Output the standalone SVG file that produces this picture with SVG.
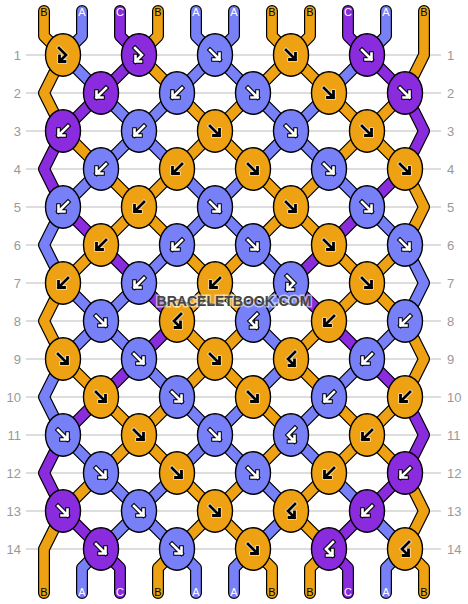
<svg xmlns="http://www.w3.org/2000/svg" xmlns:xlink="http://www.w3.org/1999/xlink" width="468" height="604" viewBox="0 0 468 604">
<style>
.g{stroke:#bbb;stroke-width:1}
.rn{font-family:"Liberation Sans",Arial,sans-serif;font-size:13px;fill:#999}
.so{fill:none;stroke:#000;stroke-width:12;stroke-linecap:round;stroke-linejoin:round}
.sO{fill:none;stroke:#EEA213;stroke-width:9.6;stroke-linecap:round;stroke-linejoin:round}
.sA{fill:none;stroke:#7880F7;stroke-width:9.6;stroke-linecap:round;stroke-linejoin:round}
.sC{fill:none;stroke:#8A2BDE;stroke-width:9.6;stroke-linecap:round;stroke-linejoin:round}
ellipse{stroke:#000;stroke-width:1.4}
.kO{fill:#EEA213}.kA{fill:#7880F7}.kC{fill:#8A2BDE}
.ob{fill:none;stroke:#000;stroke-width:4.6;stroke-linecap:square;stroke-linejoin:miter}
.iw{fill:none;stroke:#fff;stroke-width:2.6;stroke-linecap:square;stroke-linejoin:miter}
.ow{fill:none;stroke:#fff;stroke-width:4;stroke-linecap:square;stroke-linejoin:miter}
.ib{fill:none;stroke:#000;stroke-width:2.8;stroke-linecap:square;stroke-linejoin:miter}
.lb{font-family:"Liberation Sans",Arial,sans-serif;font-size:11px;text-anchor:middle}
.lk{fill:#000}.lw{fill:#fff}
.wm{font-family:"Liberation Sans",Arial,sans-serif;font-size:14px;font-weight:bold;fill:#454545;stroke:#fff;stroke-opacity:0.55;stroke-width:3;paint-order:stroke;text-anchor:middle}
</style>
<defs>
<path id="aF" d="M-5,-5L4.5,4.5M4.5,-1.5V4.5H-1.5"/>
<path id="aB" d="M5,-5L-4.5,4.5M-4.5,-1.5V4.5H1.5"/>
<path id="aFB" d="M-4,-7L3,0L-3.5,6.5M-3.5,1V6.5H2"/>
<path id="aBF" d="M4,-7L-3,0L3.5,6.5M3.5,1V6.5H-2"/>
<path id="s0" d="M44,11L44,36L63,55L44,93L63,131L101,169L139,207L177,245L215,283L253,321L215,359L177,397L139,435L101,473L63,511L44,549L44,593"/>
<path id="s1" d="M82,11L82,36L63,55L101,93L139,131L177,169L215,207L253,245L291,283L253,321L291,359L253,397L215,435L177,473L139,511L101,549L82,568L82,593"/>
<path id="s2" d="M120,11L120,36L139,55L101,93L63,131L44,169L63,207L101,245L139,283L177,321L139,359L101,397L63,435L44,473L63,511L101,549L120,568L120,593"/>
<path id="s3" d="M158,11L158,36L139,55L177,93L215,131L253,169L291,207L329,245L367,283L405,321L424,359L405,397L367,435L329,473L291,511L329,549L310,568L310,593"/>
<path id="s4" d="M196,11L196,36L215,55L253,93L291,131L329,169L367,207L405,245L424,283L405,321L367,359L329,397L291,435L329,473L367,511L405,549L386,568L386,593"/>
<path id="s5" d="M234,11L234,36L215,55L177,93L139,131L101,169L63,207L44,245L63,283L101,321L139,359L177,397L215,435L253,473L291,511L253,549L234,568L234,593"/>
<path id="s6" d="M272,11L272,36L291,55L329,93L367,131L405,169L424,207L405,245L367,283L329,321L291,359L329,397L367,435L405,473L424,511L405,549L424,568L424,593"/>
<path id="s7" d="M310,11L310,36L291,55L253,93L215,131L177,169L139,207L101,245L63,283L44,321L63,359L101,397L139,435L177,473L215,511L253,549L272,568L272,593"/>
<path id="s8" d="M348,11L348,36L367,55L405,93L424,131L405,169L367,207L329,245L291,283L329,321L367,359L405,397L424,435L405,473L367,511L329,549L348,568L348,593"/>
<path id="s9" d="M386,11L386,36L367,55L329,93L291,131L253,169L215,207L177,245L139,283L101,321L63,359L44,397L63,435L101,473L139,511L177,549L196,568L196,593"/>
<path id="s10" d="M424,11L424,55L405,93L367,131L329,169L291,207L253,245L215,283L177,321L215,359L253,397L291,435L253,473L215,511L177,549L158,568L158,593"/>
</defs>
<g id="guides">
<line class="g" x1="26" y1="55" x2="441" y2="55"/>
<line class="g" x1="26" y1="93" x2="441" y2="93"/>
<line class="g" x1="26" y1="131" x2="441" y2="131"/>
<line class="g" x1="26" y1="169" x2="441" y2="169"/>
<line class="g" x1="26" y1="207" x2="441" y2="207"/>
<line class="g" x1="26" y1="245" x2="441" y2="245"/>
<line class="g" x1="26" y1="283" x2="441" y2="283"/>
<line class="g" x1="26" y1="321" x2="441" y2="321"/>
<line class="g" x1="26" y1="359" x2="441" y2="359"/>
<line class="g" x1="26" y1="397" x2="441" y2="397"/>
<line class="g" x1="26" y1="435" x2="441" y2="435"/>
<line class="g" x1="26" y1="473" x2="441" y2="473"/>
<line class="g" x1="26" y1="511" x2="441" y2="511"/>
<line class="g" x1="26" y1="549" x2="441" y2="549"/>
<g class="rn" text-anchor="end">
<text x="21" y="60">1</text><text x="21" y="98">2</text><text x="21" y="136">3</text><text x="21" y="174">4</text><text x="21" y="212">5</text><text x="21" y="250">6</text><text x="21" y="288">7</text><text x="21" y="326">8</text><text x="21" y="364">9</text><text x="21" y="402">10</text><text x="21" y="440">11</text><text x="21" y="478">12</text><text x="21" y="516">13</text><text x="21" y="554">14</text>
</g>
<g class="rn" text-anchor="start">
<text x="447" y="60">1</text><text x="447" y="98">2</text><text x="447" y="136">3</text><text x="447" y="174">4</text><text x="447" y="212">5</text><text x="447" y="250">6</text><text x="447" y="288">7</text><text x="447" y="326">8</text><text x="447" y="364">9</text><text x="447" y="402">10</text><text x="447" y="440">11</text><text x="447" y="478">12</text><text x="447" y="516">13</text><text x="447" y="554">14</text>
</g>
</g>
<g id="connectors">
<use href="#s0" class="so"/><use href="#s0" class="sO"/>
<use href="#s1" class="so"/><use href="#s1" class="sA"/>
<use href="#s2" class="so"/><use href="#s2" class="sC"/>
<use href="#s3" class="so"/><use href="#s3" class="sO"/>
<use href="#s4" class="so"/><use href="#s4" class="sA"/>
<use href="#s5" class="so"/><use href="#s5" class="sA"/>
<use href="#s6" class="so"/><use href="#s6" class="sO"/>
<use href="#s7" class="so"/><use href="#s7" class="sO"/>
<use href="#s8" class="so"/><use href="#s8" class="sC"/>
<use href="#s9" class="so"/><use href="#s9" class="sA"/>
<use href="#s10" class="so"/><use href="#s10" class="sO"/>
</g>
<g id="knots">
<g id="r1k1"><ellipse class="kO" cx="63" cy="55" rx="17.5" ry="21.3"/><use href="#aFB" x="63" y="55" class="ow"/><use href="#aFB" x="63" y="55" class="ib"/></g>
<g id="r1k2"><ellipse class="kC" cx="139" cy="55" rx="17.5" ry="21.3"/><use href="#aFB" x="139" y="55" class="ob"/><use href="#aFB" x="139" y="55" class="iw"/></g>
<g id="r1k3"><ellipse class="kA" cx="215" cy="55" rx="17.5" ry="21.3"/><use href="#aF" x="215" y="55" class="ob"/><use href="#aF" x="215" y="55" class="iw"/></g>
<g id="r1k4"><ellipse class="kO" cx="291" cy="55" rx="17.5" ry="21.3"/><use href="#aF" x="291" y="55" class="ow"/><use href="#aF" x="291" y="55" class="ib"/></g>
<g id="r1k5"><ellipse class="kC" cx="367" cy="55" rx="17.5" ry="21.3"/><use href="#aF" x="367" y="55" class="ob"/><use href="#aF" x="367" y="55" class="iw"/></g>

<g id="r2k1"><ellipse class="kC" cx="101" cy="93" rx="17.5" ry="21.3"/><use href="#aB" x="101" y="93" class="ob"/><use href="#aB" x="101" y="93" class="iw"/></g>
<g id="r2k2"><ellipse class="kA" cx="177" cy="93" rx="17.5" ry="21.3"/><use href="#aB" x="177" y="93" class="ob"/><use href="#aB" x="177" y="93" class="iw"/></g>
<g id="r2k3"><ellipse class="kA" cx="253" cy="93" rx="17.5" ry="21.3"/><use href="#aF" x="253" y="93" class="ob"/><use href="#aF" x="253" y="93" class="iw"/></g>
<g id="r2k4"><ellipse class="kO" cx="329" cy="93" rx="17.5" ry="21.3"/><use href="#aF" x="329" y="93" class="ow"/><use href="#aF" x="329" y="93" class="ib"/></g>
<g id="r2k5"><ellipse class="kC" cx="405" cy="93" rx="17.5" ry="21.3"/><use href="#aF" x="405" y="93" class="ob"/><use href="#aF" x="405" y="93" class="iw"/></g>

<g id="r3k1"><ellipse class="kC" cx="63" cy="131" rx="17.5" ry="21.3"/><use href="#aB" x="63" y="131" class="ob"/><use href="#aB" x="63" y="131" class="iw"/></g>
<g id="r3k2"><ellipse class="kA" cx="139" cy="131" rx="17.5" ry="21.3"/><use href="#aB" x="139" y="131" class="ob"/><use href="#aB" x="139" y="131" class="iw"/></g>
<g id="r3k3"><ellipse class="kO" cx="215" cy="131" rx="17.5" ry="21.3"/><use href="#aF" x="215" y="131" class="ow"/><use href="#aF" x="215" y="131" class="ib"/></g>
<g id="r3k4"><ellipse class="kA" cx="291" cy="131" rx="17.5" ry="21.3"/><use href="#aF" x="291" y="131" class="ob"/><use href="#aF" x="291" y="131" class="iw"/></g>
<g id="r3k5"><ellipse class="kO" cx="367" cy="131" rx="17.5" ry="21.3"/><use href="#aF" x="367" y="131" class="ow"/><use href="#aF" x="367" y="131" class="ib"/></g>

<g id="r4k1"><ellipse class="kA" cx="101" cy="169" rx="17.5" ry="21.3"/><use href="#aB" x="101" y="169" class="ob"/><use href="#aB" x="101" y="169" class="iw"/></g>
<g id="r4k2"><ellipse class="kO" cx="177" cy="169" rx="17.5" ry="21.3"/><use href="#aB" x="177" y="169" class="ow"/><use href="#aB" x="177" y="169" class="ib"/></g>
<g id="r4k3"><ellipse class="kO" cx="253" cy="169" rx="17.5" ry="21.3"/><use href="#aF" x="253" y="169" class="ow"/><use href="#aF" x="253" y="169" class="ib"/></g>
<g id="r4k4"><ellipse class="kA" cx="329" cy="169" rx="17.5" ry="21.3"/><use href="#aF" x="329" y="169" class="ob"/><use href="#aF" x="329" y="169" class="iw"/></g>
<g id="r4k5"><ellipse class="kO" cx="405" cy="169" rx="17.5" ry="21.3"/><use href="#aF" x="405" y="169" class="ow"/><use href="#aF" x="405" y="169" class="ib"/></g>

<g id="r5k1"><ellipse class="kA" cx="63" cy="207" rx="17.5" ry="21.3"/><use href="#aB" x="63" y="207" class="ob"/><use href="#aB" x="63" y="207" class="iw"/></g>
<g id="r5k2"><ellipse class="kO" cx="139" cy="207" rx="17.5" ry="21.3"/><use href="#aB" x="139" y="207" class="ow"/><use href="#aB" x="139" y="207" class="ib"/></g>
<g id="r5k3"><ellipse class="kA" cx="215" cy="207" rx="17.5" ry="21.3"/><use href="#aF" x="215" y="207" class="ob"/><use href="#aF" x="215" y="207" class="iw"/></g>
<g id="r5k4"><ellipse class="kO" cx="291" cy="207" rx="17.5" ry="21.3"/><use href="#aF" x="291" y="207" class="ow"/><use href="#aF" x="291" y="207" class="ib"/></g>
<g id="r5k5"><ellipse class="kA" cx="367" cy="207" rx="17.5" ry="21.3"/><use href="#aF" x="367" y="207" class="ob"/><use href="#aF" x="367" y="207" class="iw"/></g>

<g id="r6k1"><ellipse class="kO" cx="101" cy="245" rx="17.5" ry="21.3"/><use href="#aB" x="101" y="245" class="ow"/><use href="#aB" x="101" y="245" class="ib"/></g>
<g id="r6k2"><ellipse class="kA" cx="177" cy="245" rx="17.5" ry="21.3"/><use href="#aB" x="177" y="245" class="ob"/><use href="#aB" x="177" y="245" class="iw"/></g>
<g id="r6k3"><ellipse class="kA" cx="253" cy="245" rx="17.5" ry="21.3"/><use href="#aF" x="253" y="245" class="ob"/><use href="#aF" x="253" y="245" class="iw"/></g>
<g id="r6k4"><ellipse class="kO" cx="329" cy="245" rx="17.5" ry="21.3"/><use href="#aF" x="329" y="245" class="ow"/><use href="#aF" x="329" y="245" class="ib"/></g>
<g id="r6k5"><ellipse class="kA" cx="405" cy="245" rx="17.5" ry="21.3"/><use href="#aF" x="405" y="245" class="ob"/><use href="#aF" x="405" y="245" class="iw"/></g>

<g id="r7k1"><ellipse class="kO" cx="63" cy="283" rx="17.5" ry="21.3"/><use href="#aB" x="63" y="283" class="ow"/><use href="#aB" x="63" y="283" class="ib"/></g>
<g id="r7k2"><ellipse class="kA" cx="139" cy="283" rx="17.5" ry="21.3"/><use href="#aB" x="139" y="283" class="ob"/><use href="#aB" x="139" y="283" class="iw"/></g>
<g id="r7k3"><ellipse class="kO" cx="215" cy="283" rx="17.5" ry="21.3"/><use href="#aB" x="215" y="283" class="ow"/><use href="#aB" x="215" y="283" class="ib"/></g>
<g id="r7k4"><ellipse class="kA" cx="291" cy="283" rx="17.5" ry="21.3"/><use href="#aFB" x="291" y="283" class="ob"/><use href="#aFB" x="291" y="283" class="iw"/></g>
<g id="r7k5"><ellipse class="kO" cx="367" cy="283" rx="17.5" ry="21.3"/><use href="#aF" x="367" y="283" class="ow"/><use href="#aF" x="367" y="283" class="ib"/></g>

<g id="r8k1"><ellipse class="kA" cx="101" cy="321" rx="17.5" ry="21.3"/><use href="#aF" x="101" y="321" class="ob"/><use href="#aF" x="101" y="321" class="iw"/></g>
<g id="r8k2"><ellipse class="kO" cx="177" cy="321" rx="17.5" ry="21.3"/><use href="#aBF" x="177" y="321" class="ow"/><use href="#aBF" x="177" y="321" class="ib"/></g>
<g id="r8k3"><ellipse class="kA" cx="253" cy="321" rx="17.5" ry="21.3"/><use href="#aBF" x="253" y="321" class="ob"/><use href="#aBF" x="253" y="321" class="iw"/></g>
<g id="r8k4"><ellipse class="kO" cx="329" cy="321" rx="17.5" ry="21.3"/><use href="#aB" x="329" y="321" class="ow"/><use href="#aB" x="329" y="321" class="ib"/></g>
<g id="r8k5"><ellipse class="kA" cx="405" cy="321" rx="17.5" ry="21.3"/><use href="#aB" x="405" y="321" class="ob"/><use href="#aB" x="405" y="321" class="iw"/></g>

<g id="r9k1"><ellipse class="kO" cx="63" cy="359" rx="17.5" ry="21.3"/><use href="#aF" x="63" y="359" class="ow"/><use href="#aF" x="63" y="359" class="ib"/></g>
<g id="r9k2"><ellipse class="kA" cx="139" cy="359" rx="17.5" ry="21.3"/><use href="#aF" x="139" y="359" class="ob"/><use href="#aF" x="139" y="359" class="iw"/></g>
<g id="r9k3"><ellipse class="kO" cx="215" cy="359" rx="17.5" ry="21.3"/><use href="#aF" x="215" y="359" class="ow"/><use href="#aF" x="215" y="359" class="ib"/></g>
<g id="r9k4"><ellipse class="kO" cx="291" cy="359" rx="17.5" ry="21.3"/><use href="#aBF" x="291" y="359" class="ow"/><use href="#aBF" x="291" y="359" class="ib"/></g>
<g id="r9k5"><ellipse class="kA" cx="367" cy="359" rx="17.5" ry="21.3"/><use href="#aB" x="367" y="359" class="ob"/><use href="#aB" x="367" y="359" class="iw"/></g>

<g id="r10k1"><ellipse class="kO" cx="101" cy="397" rx="17.5" ry="21.3"/><use href="#aF" x="101" y="397" class="ow"/><use href="#aF" x="101" y="397" class="ib"/></g>
<g id="r10k2"><ellipse class="kA" cx="177" cy="397" rx="17.5" ry="21.3"/><use href="#aF" x="177" y="397" class="ob"/><use href="#aF" x="177" y="397" class="iw"/></g>
<g id="r10k3"><ellipse class="kO" cx="253" cy="397" rx="17.5" ry="21.3"/><use href="#aF" x="253" y="397" class="ow"/><use href="#aF" x="253" y="397" class="ib"/></g>
<g id="r10k4"><ellipse class="kA" cx="329" cy="397" rx="17.5" ry="21.3"/><use href="#aB" x="329" y="397" class="ob"/><use href="#aB" x="329" y="397" class="iw"/></g>
<g id="r10k5"><ellipse class="kO" cx="405" cy="397" rx="17.5" ry="21.3"/><use href="#aB" x="405" y="397" class="ow"/><use href="#aB" x="405" y="397" class="ib"/></g>

<g id="r11k1"><ellipse class="kA" cx="63" cy="435" rx="17.5" ry="21.3"/><use href="#aF" x="63" y="435" class="ob"/><use href="#aF" x="63" y="435" class="iw"/></g>
<g id="r11k2"><ellipse class="kO" cx="139" cy="435" rx="17.5" ry="21.3"/><use href="#aF" x="139" y="435" class="ow"/><use href="#aF" x="139" y="435" class="ib"/></g>
<g id="r11k3"><ellipse class="kA" cx="215" cy="435" rx="17.5" ry="21.3"/><use href="#aF" x="215" y="435" class="ob"/><use href="#aF" x="215" y="435" class="iw"/></g>
<g id="r11k4"><ellipse class="kA" cx="291" cy="435" rx="17.5" ry="21.3"/><use href="#aBF" x="291" y="435" class="ob"/><use href="#aBF" x="291" y="435" class="iw"/></g>
<g id="r11k5"><ellipse class="kO" cx="367" cy="435" rx="17.5" ry="21.3"/><use href="#aB" x="367" y="435" class="ow"/><use href="#aB" x="367" y="435" class="ib"/></g>

<g id="r12k1"><ellipse class="kA" cx="101" cy="473" rx="17.5" ry="21.3"/><use href="#aF" x="101" y="473" class="ob"/><use href="#aF" x="101" y="473" class="iw"/></g>
<g id="r12k2"><ellipse class="kO" cx="177" cy="473" rx="17.5" ry="21.3"/><use href="#aF" x="177" y="473" class="ow"/><use href="#aF" x="177" y="473" class="ib"/></g>
<g id="r12k3"><ellipse class="kA" cx="253" cy="473" rx="17.5" ry="21.3"/><use href="#aF" x="253" y="473" class="ob"/><use href="#aF" x="253" y="473" class="iw"/></g>
<g id="r12k4"><ellipse class="kO" cx="329" cy="473" rx="17.5" ry="21.3"/><use href="#aB" x="329" y="473" class="ow"/><use href="#aB" x="329" y="473" class="ib"/></g>
<g id="r12k5"><ellipse class="kC" cx="405" cy="473" rx="17.5" ry="21.3"/><use href="#aB" x="405" y="473" class="ob"/><use href="#aB" x="405" y="473" class="iw"/></g>

<g id="r13k1"><ellipse class="kC" cx="63" cy="511" rx="17.5" ry="21.3"/><use href="#aF" x="63" y="511" class="ob"/><use href="#aF" x="63" y="511" class="iw"/></g>
<g id="r13k2"><ellipse class="kA" cx="139" cy="511" rx="17.5" ry="21.3"/><use href="#aF" x="139" y="511" class="ob"/><use href="#aF" x="139" y="511" class="iw"/></g>
<g id="r13k3"><ellipse class="kO" cx="215" cy="511" rx="17.5" ry="21.3"/><use href="#aF" x="215" y="511" class="ow"/><use href="#aF" x="215" y="511" class="ib"/></g>
<g id="r13k4"><ellipse class="kO" cx="291" cy="511" rx="17.5" ry="21.3"/><use href="#aBF" x="291" y="511" class="ow"/><use href="#aBF" x="291" y="511" class="ib"/></g>
<g id="r13k5"><ellipse class="kC" cx="367" cy="511" rx="17.5" ry="21.3"/><use href="#aB" x="367" y="511" class="ob"/><use href="#aB" x="367" y="511" class="iw"/></g>

<g id="r14k1"><ellipse class="kC" cx="101" cy="549" rx="17.5" ry="21.3"/><use href="#aF" x="101" y="549" class="ob"/><use href="#aF" x="101" y="549" class="iw"/></g>
<g id="r14k2"><ellipse class="kA" cx="177" cy="549" rx="17.5" ry="21.3"/><use href="#aF" x="177" y="549" class="ob"/><use href="#aF" x="177" y="549" class="iw"/></g>
<g id="r14k3"><ellipse class="kO" cx="253" cy="549" rx="17.5" ry="21.3"/><use href="#aF" x="253" y="549" class="ow"/><use href="#aF" x="253" y="549" class="ib"/></g>
<g id="r14k4"><ellipse class="kC" cx="329" cy="549" rx="17.5" ry="21.3"/><use href="#aBF" x="329" y="549" class="ob"/><use href="#aBF" x="329" y="549" class="iw"/></g>
<g id="r14k5"><ellipse class="kO" cx="405" cy="549" rx="17.5" ry="21.3"/><use href="#aBF" x="405" y="549" class="ow"/><use href="#aBF" x="405" y="549" class="ib"/></g>
</g>
<g id="labels" class="lb">
<text class="lk" x="44" y="16">B</text><text class="lw" x="82" y="16">A</text><text class="lw" x="120" y="16">C</text><text class="lk" x="158" y="16">B</text><text class="lw" x="196" y="16">A</text><text class="lw" x="234" y="16">A</text><text class="lk" x="272" y="16">B</text><text class="lk" x="310" y="16">B</text><text class="lw" x="348" y="16">C</text><text class="lw" x="386" y="16">A</text><text class="lk" x="424" y="16">B</text>
<text class="lk" x="44" y="596">B</text><text class="lw" x="82" y="596">A</text><text class="lw" x="120" y="596">C</text><text class="lk" x="158" y="596">B</text><text class="lw" x="196" y="596">A</text><text class="lw" x="234" y="596">A</text><text class="lk" x="272" y="596">B</text><text class="lk" x="310" y="596">B</text><text class="lw" x="348" y="596">C</text><text class="lw" x="386" y="596">A</text><text class="lk" x="424" y="596">B</text>
</g>
<text class="wm" x="234" y="306">BRACELETBOOK.COM</text>
</svg>
